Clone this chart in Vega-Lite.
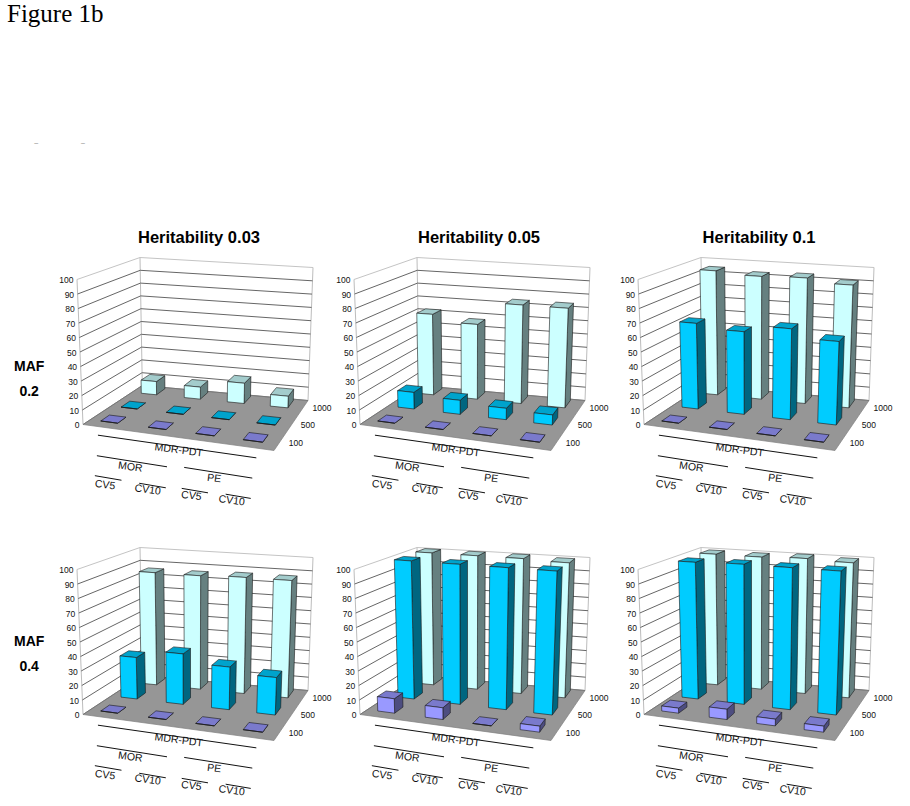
{
"$schema":"https://vega.github.io/schema/vega-lite/v6.json",
"background":"white",
"padding":{"left":7,"top":2,"right":0,"bottom":0},
"bounds":"flush",
"title":{"text":"Figure 1b","subtitle":"\u200b\u00a0\u00a0\u00a0\u00a0\u00a0\u00a0\u00a0\u00a0\u00a0\u00a0\u00a0\u00a0\u00a0\u00a0\u2013\u00a0\u00a0\u00a0\u00a0\u00a0\u00a0\u00a0\u00a0\u00a0\u00a0\u00a0\u00a0\u00a0\u00a0\u00a0\u00a0\u00a0\u00a0\u00a0\u00a0\u00a0\u00a0\u2013","anchor":"start","frame":"bounds","dx":-7,"font":"Liberation Serif","fontSize":25,"fontWeight":"normal","color":"#000000","subtitleFont":"Liberation Sans","subtitleFontSize":7,"subtitleColor":"#888888","subtitlePadding":112,"offset":83},
"data":{"values":[
{"heritability":0.03,"maf":0.2,"method":"MOR CV5","n":1000,"power":10},{"heritability":0.03,"maf":0.2,"method":"MOR CV10","n":1000,"power":9},{"heritability":0.03,"maf":0.2,"method":"PE CV5","n":1000,"power":15},{"heritability":0.03,"maf":0.2,"method":"PE CV10","n":1000,"power":8.5},
{"heritability":0.03,"maf":0.2,"method":"MOR CV5","n":500,"power":0},{"heritability":0.03,"maf":0.2,"method":"MOR CV10","n":500,"power":0},{"heritability":0.03,"maf":0.2,"method":"PE CV5","n":500,"power":0},{"heritability":0.03,"maf":0.2,"method":"PE CV10","n":500,"power":0},
{"heritability":0.03,"maf":0.2,"method":"MOR CV5","n":100,"power":0},{"heritability":0.03,"maf":0.2,"method":"MOR CV10","n":100,"power":0},{"heritability":0.03,"maf":0.2,"method":"PE CV5","n":100,"power":0},{"heritability":0.03,"maf":0.2,"method":"PE CV10","n":100,"power":0},
{"heritability":0.05,"maf":0.2,"method":"MOR CV5","n":1000,"power":61},{"heritability":0.05,"maf":0.2,"method":"MOR CV10","n":1000,"power":56},{"heritability":0.05,"maf":0.2,"method":"PE CV5","n":1000,"power":73},{"heritability":0.05,"maf":0.2,"method":"PE CV10","n":1000,"power":73},
{"heritability":0.05,"maf":0.2,"method":"MOR CV5","n":500,"power":12},{"heritability":0.05,"maf":0.2,"method":"MOR CV10","n":500,"power":10},{"heritability":0.05,"maf":0.2,"method":"PE CV5","n":500,"power":8},{"heritability":0.05,"maf":0.2,"method":"PE CV10","n":500,"power":7},
{"heritability":0.05,"maf":0.2,"method":"MOR CV5","n":100,"power":0},{"heritability":0.05,"maf":0.2,"method":"MOR CV10","n":100,"power":0},{"heritability":0.05,"maf":0.2,"method":"PE CV5","n":100,"power":0},{"heritability":0.05,"maf":0.2,"method":"PE CV10","n":100,"power":0},
{"heritability":0.1,"maf":0.2,"method":"MOR CV5","n":1000,"power":94},{"heritability":0.1,"maf":0.2,"method":"MOR CV10","n":1000,"power":92},{"heritability":0.1,"maf":0.2,"method":"PE CV5","n":1000,"power":93},{"heritability":0.1,"maf":0.2,"method":"PE CV10","n":1000,"power":90},
{"heritability":0.1,"maf":0.2,"method":"MOR CV5","n":500,"power":62},{"heritability":0.1,"maf":0.2,"method":"MOR CV10","n":500,"power":59},{"heritability":0.1,"maf":0.2,"method":"PE CV5","n":500,"power":64},{"heritability":0.1,"maf":0.2,"method":"PE CV10","n":500,"power":58},
{"heritability":0.1,"maf":0.2,"method":"MOR CV5","n":100,"power":0},{"heritability":0.1,"maf":0.2,"method":"MOR CV10","n":100,"power":0},{"heritability":0.1,"maf":0.2,"method":"PE CV5","n":100,"power":0},{"heritability":0.1,"maf":0.2,"method":"PE CV10","n":100,"power":0},
{"heritability":0.03,"maf":0.4,"method":"MOR CV5","n":1000,"power":85},{"heritability":0.03,"maf":0.4,"method":"MOR CV10","n":1000,"power":85},{"heritability":0.03,"maf":0.4,"method":"PE CV5","n":1000,"power":86},{"heritability":0.03,"maf":0.4,"method":"PE CV10","n":1000,"power":86},
{"heritability":0.03,"maf":0.4,"method":"MOR CV5","n":500,"power":30},{"heritability":0.03,"maf":0.4,"method":"MOR CV10","n":500,"power":36},{"heritability":0.03,"maf":0.4,"method":"PE CV5","n":500,"power":30},{"heritability":0.03,"maf":0.4,"method":"PE CV10","n":500,"power":26},
{"heritability":0.03,"maf":0.4,"method":"MOR CV5","n":100,"power":0},{"heritability":0.03,"maf":0.4,"method":"MOR CV10","n":100,"power":0},{"heritability":0.03,"maf":0.4,"method":"PE CV5","n":100,"power":0},{"heritability":0.03,"maf":0.4,"method":"PE CV10","n":100,"power":0},
{"heritability":0.05,"maf":0.4,"method":"MOR CV5","n":1000,"power":100},{"heritability":0.05,"maf":0.4,"method":"MOR CV10","n":1000,"power":100},{"heritability":0.05,"maf":0.4,"method":"PE CV5","n":1000,"power":100},{"heritability":0.05,"maf":0.4,"method":"PE CV10","n":1000,"power":99},
{"heritability":0.05,"maf":0.4,"method":"MOR CV5","n":500,"power":100},{"heritability":0.05,"maf":0.4,"method":"MOR CV10","n":500,"power":100},{"heritability":0.05,"maf":0.4,"method":"PE CV5","n":500,"power":100},{"heritability":0.05,"maf":0.4,"method":"PE CV10","n":500,"power":100},
{"heritability":0.05,"maf":0.4,"method":"MOR CV5","n":100,"power":10},{"heritability":0.05,"maf":0.4,"method":"MOR CV10","n":100,"power":8},{"heritability":0.05,"maf":0.4,"method":"PE CV5","n":100,"power":0},{"heritability":0.05,"maf":0.4,"method":"PE CV10","n":100,"power":4},
{"heritability":0.1,"maf":0.4,"method":"MOR CV5","n":1000,"power":99},{"heritability":0.1,"maf":0.4,"method":"MOR CV10","n":1000,"power":99},{"heritability":0.1,"maf":0.4,"method":"PE CV5","n":1000,"power":100},{"heritability":0.1,"maf":0.4,"method":"PE CV10","n":1000,"power":99},
{"heritability":0.1,"maf":0.4,"method":"MOR CV5","n":500,"power":99},{"heritability":0.1,"maf":0.4,"method":"MOR CV10","n":500,"power":100},{"heritability":0.1,"maf":0.4,"method":"PE CV5","n":500,"power":100},{"heritability":0.1,"maf":0.4,"method":"PE CV10","n":500,"power":100},
{"heritability":0.1,"maf":0.4,"method":"MOR CV5","n":100,"power":3.5},{"heritability":0.1,"maf":0.4,"method":"MOR CV10","n":100,"power":7},{"heritability":0.1,"maf":0.4,"method":"PE CV5","n":100,"power":4.5},{"heritability":0.1,"maf":0.4,"method":"PE CV10","n":100,"power":4}
]},
"transform":[
{"calculate":"datum.heritability==0.05?-3:(datum.heritability==0.1?1:0)","as":"dx"},
{"calculate":"datum.maf==0.4?15:0","as":"dy"}
],
"facet":{
"column":{"field":"heritability","type":"ordinal","header":{"title":null,"labelExpr":"'Heritability '+datum.value","labelFont":"Liberation Sans","labelFontSize":16.5,"labelFontWeight":"bold","labelColor":"#000000","labelPadding":-17}},
"row":{"field":"maf","type":"ordinal","header":{"title":null,"labelExpr":"['MAF',''+datum.value]","labelAngle":0,"labelAlign":"center","labelFont":"Liberation Sans","labelFontSize":14,"labelFontWeight":"bold","labelColor":"#000000","labelLineHeight":25,"labelPadding":-0.5}}
},
"spacing":0,
"spec":{
"width":280,"height":275,
"encoding":{
"x":{"field":"px","type":"quantitative","scale":{"domain":[60,340],"nice":false,"zero":false},"axis":null},
"y":{"field":"py","type":"quantitative","scale":{"domain":[503.5,228.5],"nice":false,"zero":false},"axis":null}
},
"layer":[
{"transform":[
{"filter":"datum.method=='MOR CV5'&&datum.n==100"},
{"calculate":"[0,1,2,3,4]","as":"corner"},{"flatten":["corner"]},
{"calculate":"(datum.corner==1||datum.corner==2)?1:0","as":"u"},
{"calculate":"(datum.corner==2||datum.corner==3)?1:0","as":"v"},
{"calculate":"0","as":"w"},
{"calculate":"(1-datum.w)*((1-datum.v)*((1-datum.u)*84+datum.u*275)+datum.v*((1-datum.u)*143.3+datum.u*309))+datum.w*((1-datum.v)*((1-datum.u)*78+datum.u*281)+datum.v*((1-datum.u)*141+datum.u*314))+datum.dx","as":"px"},
{"calculate":"(1-datum.w)*((1-datum.v)*((1-datum.u)*424+datum.u*450)+datum.v*((1-datum.u)*385+datum.u*400))+datum.w*((1-datum.v)*((1-datum.u)*279+datum.u*295)+datum.v*((1-datum.u)*257+datum.u*267))+datum.dy","as":"py"}
],
"mark":{"type":"line","filled":true,"fill":"#969696","stroke":"#808080","strokeWidth":0.7},
"encoding":{"order":{"field":"corner","type":"quantitative"}}},
{"transform":[
{"filter":"datum.method=='MOR CV5'&&datum.n==100"},
{"calculate":"['a','b','c']","as":"edge"},{"flatten":["edge"]},
{"calculate":"[0,1]","as":"w"},{"flatten":["w"]},
{"calculate":"datum.edge=='c'?1:0","as":"u"},
{"calculate":"datum.edge=='a'?0:1","as":"v"},
{"calculate":"(1-datum.w)*((1-datum.v)*((1-datum.u)*84+datum.u*275)+datum.v*((1-datum.u)*143.3+datum.u*309))+datum.w*((1-datum.v)*((1-datum.u)*78+datum.u*281)+datum.v*((1-datum.u)*141+datum.u*314))+datum.dx","as":"px"},
{"calculate":"(1-datum.w)*((1-datum.v)*((1-datum.u)*424+datum.u*450)+datum.v*((1-datum.u)*385+datum.u*400))+datum.w*((1-datum.v)*((1-datum.u)*279+datum.u*295)+datum.v*((1-datum.u)*257+datum.u*267))+datum.dy","as":"py"}
],
"mark":{"type":"line","stroke":"#bdbdbd","strokeWidth":1},
"encoding":{"detail":{"field":"edge"},"order":{"field":"w","type":"quantitative"}}},
{"transform":[
{"filter":"datum.method=='MOR CV5'&&datum.n==100"},
{"calculate":"[0,10,20,30,40,50,60,70,80,90,100]","as":"tick"},{"flatten":["tick"]},
{"calculate":"[0,1,2]","as":"pt"},{"flatten":["pt"]},
{"calculate":"datum.pt==2?1:0","as":"u"},
{"calculate":"datum.pt==0?0:1","as":"v"},
{"calculate":"datum.tick/100","as":"w"},
{"calculate":"(1-datum.w)*((1-datum.v)*((1-datum.u)*84+datum.u*275)+datum.v*((1-datum.u)*143.3+datum.u*309))+datum.w*((1-datum.v)*((1-datum.u)*78+datum.u*281)+datum.v*((1-datum.u)*141+datum.u*314))+datum.dx","as":"px"},
{"calculate":"(1-datum.w)*((1-datum.v)*((1-datum.u)*424+datum.u*450)+datum.v*((1-datum.u)*385+datum.u*400))+datum.w*((1-datum.v)*((1-datum.u)*279+datum.u*295)+datum.v*((1-datum.u)*257+datum.u*267))+datum.dy","as":"py"}
],
"mark":{"type":"line","strokeWidth":1},
"encoding":{"detail":{"field":"tick"},"order":{"field":"pt","type":"quantitative"},"stroke":{"field":"tick","type":"nominal","legend":null,"scale":{"domain":[0,10,20,30,40,50,60,70,80,90,100],"range":["#777777","#666666","#666666","#666666","#666666","#666666","#666666","#666666","#666666","#666666","#c4c4c4"]}}}},
{"transform":[
{"filter":"datum.method=='MOR CV5'&&datum.n==100"},
{"calculate":"[0,10,20,30,40,50,60,70,80,90,100]","as":"tick"},{"flatten":["tick"]},
{"calculate":"0","as":"u"},{"calculate":"0","as":"v"},
{"calculate":"datum.tick/100","as":"w"},
{"calculate":"(1-datum.w)*((1-datum.v)*((1-datum.u)*84+datum.u*275)+datum.v*((1-datum.u)*143.3+datum.u*309))+datum.w*((1-datum.v)*((1-datum.u)*78+datum.u*281)+datum.v*((1-datum.u)*141+datum.u*314))+datum.dx","as":"px"},
{"calculate":"(1-datum.w)*((1-datum.v)*((1-datum.u)*424+datum.u*450)+datum.v*((1-datum.u)*385+datum.u*400))+datum.w*((1-datum.v)*((1-datum.u)*279+datum.u*295)+datum.v*((1-datum.u)*257+datum.u*267))+datum.dy","as":"py"}
],
"mark":{"type":"text","align":"right","baseline":"middle","dx":-3.5,"dy":0.5,"font":"Liberation Sans","fontSize":8.5,"color":"#111111"},
"encoding":{"text":{"field":"tick","type":"nominal"}}},
{"transform":[
{"calculate":"0.1+0.255*indexof(['MOR CV5','MOR CV10','PE CV5','PE CV10'],datum.method)","as":"uc"},
{"calculate":"0.044+0.009*datum.uc","as":"hw"},
{"calculate":"datum.n==100?0.2:(datum.n==500?0.55:0.9)","as":"vc"},
{"calculate":"['side','top','front']","as":"face"},{"flatten":["face"]},
{"calculate":"[0,1,2,3,4]","as":"corner"},{"flatten":["corner"]},
{"calculate":"datum.corner%4","as":"c"},
{"calculate":"datum.face=='side'?datum.uc+datum.hw:datum.uc+((datum.c==1||datum.c==2)?datum.hw:-datum.hw)","as":"u"},
{"calculate":"datum.face=='front'?datum.vc-0.075:(datum.face=='side'?datum.vc+((datum.c==1||datum.c==2)?0.075:-0.075):datum.vc+((datum.c==2||datum.c==3)?0.075:-0.075))","as":"v"},
{"calculate":"datum.face=='top'?datum.power/100:((datum.c==2||datum.c==3)?datum.power/100:0)","as":"w"},
{"calculate":"datum.n+' '+datum.face","as":"shade"},
{"calculate":"datum.method+' '+datum.n+' '+datum.face","as":"poly"},
{"calculate":"(1-datum.w)*((1-datum.v)*((1-datum.u)*84+datum.u*275)+datum.v*((1-datum.u)*143.3+datum.u*309))+datum.w*((1-datum.v)*((1-datum.u)*78+datum.u*281)+datum.v*((1-datum.u)*141+datum.u*314))+datum.dx","as":"px"},
{"calculate":"(1-datum.w)*((1-datum.v)*((1-datum.u)*424+datum.u*450)+datum.v*((1-datum.u)*385+datum.u*400))+datum.w*((1-datum.v)*((1-datum.u)*279+datum.u*295)+datum.v*((1-datum.u)*257+datum.u*267))+datum.dy","as":"py"}
],
"mark":{"type":"line","filled":true,"stroke":"#1a1a1a","strokeWidth":0.6},
"encoding":{"order":{"field":"corner","type":"quantitative"},"detail":{"field":"poly"},
"fill":{"field":"shade","type":"nominal","legend":null,"scale":{"domain":["100 front","100 side","100 top","500 front","500 side","500 top","1000 front","1000 side","1000 top"],"range":["#9999FF","#4D4D80","#7A7ACC","#00CCFF","#006680","#00A3CC","#CCFFFF","#668080","#A3CCCC"]}}}},
{"transform":[
{"filter":"datum.method=='MOR CV5'&&datum.n==100"},
{"calculate":"[100,500,1000]","as":"size"},{"flatten":["size"]},
{"calculate":"1","as":"u"},
{"calculate":"datum.size==100?0.2:(datum.size==500?0.55:0.9)","as":"v"},
{"calculate":"0","as":"w"},
{"calculate":"(1-datum.w)*((1-datum.v)*((1-datum.u)*84+datum.u*275)+datum.v*((1-datum.u)*143.3+datum.u*309))+datum.w*((1-datum.v)*((1-datum.u)*78+datum.u*281)+datum.v*((1-datum.u)*141+datum.u*314))+datum.dx","as":"px"},
{"calculate":"(1-datum.w)*((1-datum.v)*((1-datum.u)*424+datum.u*450)+datum.v*((1-datum.u)*385+datum.u*400))+datum.w*((1-datum.v)*((1-datum.u)*279+datum.u*295)+datum.v*((1-datum.u)*257+datum.u*267))+datum.dy","as":"py"}
],
"mark":{"type":"text","align":"left","baseline":"middle","dx":8,"dy":2,"font":"Liberation Sans","fontSize":8.5,"color":"#111111"},
"encoding":{"text":{"field":"size","type":"nominal"}}},
{"transform":[
{"filter":"datum.method=='MOR CV5'&&datum.n==100"},
{"calculate":"[{a:0.131,b:0.941,d:-0.18,k:'MDR'},{a:0.24,b:0.58,d:-0.6,k:'MOR'},{a:0.655,b:0.987,d:-0.56,k:'PE'},{a:0.329,b:0.452,d:-1,k:'C1'},{a:0.534,b:0.657,d:-1,k:'C2'},{a:0.723,b:0.845,d:-0.96,k:'C3'},{a:0.922,b:1.039,d:-0.93,k:'C4'}]","as":"seg"},{"flatten":["seg"]},
{"calculate":"[0,1]","as":"pt"},{"flatten":["pt"]},
{"calculate":"datum.seg.k","as":"bracket"},
{"calculate":"datum.pt==0?datum.seg.a:datum.seg.b","as":"u"},
{"calculate":"datum.seg.d","as":"v"},
{"calculate":"0","as":"w"},
{"calculate":"(1-datum.w)*((1-datum.v)*((1-datum.u)*84+datum.u*275)+datum.v*((1-datum.u)*143.3+datum.u*309))+datum.w*((1-datum.v)*((1-datum.u)*78+datum.u*281)+datum.v*((1-datum.u)*141+datum.u*314))+datum.dx","as":"px"},
{"calculate":"(1-datum.w)*((1-datum.v)*((1-datum.u)*424+datum.u*450)+datum.v*((1-datum.u)*385+datum.u*400))+datum.w*((1-datum.v)*((1-datum.u)*279+datum.u*295)+datum.v*((1-datum.u)*257+datum.u*267))+datum.dy","as":"py"}
],
"mark":{"type":"line","stroke":"#111111","strokeWidth":1},
"encoding":{"detail":{"field":"bracket"},"order":{"field":"pt","type":"quantitative"}}},
{"transform":[
{"filter":"datum.method=='MOR CV5'&&datum.n==100"},
{"calculate":"[{t:'MDR-PDT',a:0.56,d:-0.25},{t:'MOR',a:0.43,d:-0.72},{t:'PE',a:0.823,d:-0.68},{t:'CV5',a:0.41,d:-1.15},{t:'CV10',a:0.594,d:-1.1},{t:'CV5',a:0.788,d:-1.07},{t:'CV10',a:0.966,d:-1.03}]","as":"lab"},{"flatten":["lab"]},
{"calculate":"datum.lab.t","as":"label"},
{"calculate":"datum.lab.a","as":"u"},
{"calculate":"datum.lab.d","as":"v"},
{"calculate":"0","as":"w"},
{"calculate":"(1-datum.w)*((1-datum.v)*((1-datum.u)*84+datum.u*275)+datum.v*((1-datum.u)*143.3+datum.u*309))+datum.w*((1-datum.v)*((1-datum.u)*78+datum.u*281)+datum.v*((1-datum.u)*141+datum.u*314))+datum.dx","as":"px"},
{"calculate":"(1-datum.w)*((1-datum.v)*((1-datum.u)*424+datum.u*450)+datum.v*((1-datum.u)*385+datum.u*400))+datum.w*((1-datum.v)*((1-datum.u)*279+datum.u*295)+datum.v*((1-datum.u)*257+datum.u*267))+datum.dy","as":"py"}
],
"mark":{"type":"text","align":"center","baseline":"middle","angle":7.5,"font":"Liberation Sans","fontSize":10.5,"color":"#111111"},
"encoding":{"text":{"field":"label","type":"nominal"}}}
]
},
"config":{"view":{"stroke":null}}
}
